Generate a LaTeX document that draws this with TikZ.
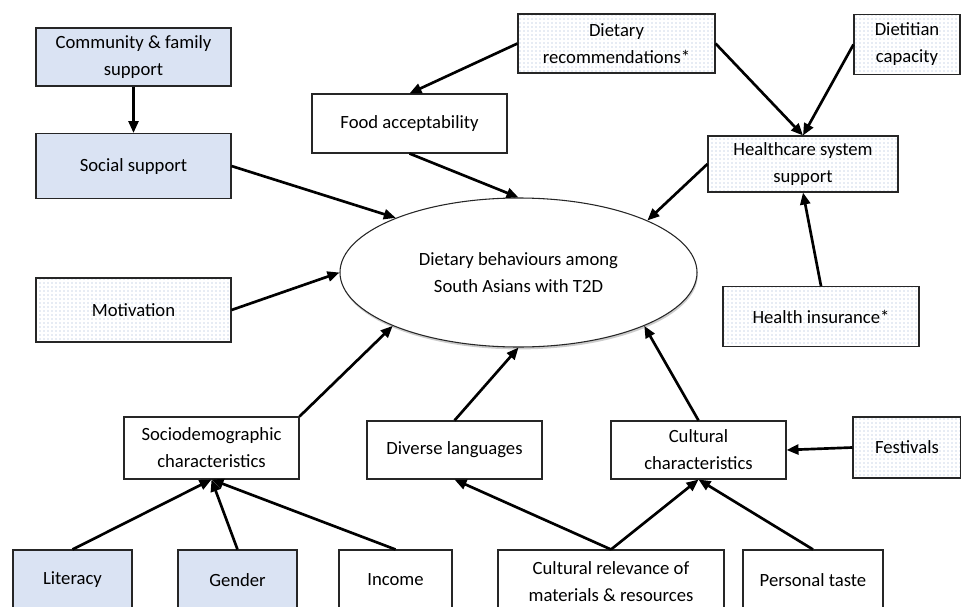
\documentclass[tikz,border=0pt]{standalone}
\usepackage{fontspec}
\setmainfont{Carlito}
\usetikzlibrary{shadows,arrows.meta,patterns,shapes.geometric}
\definecolor{azulclaro}{RGB}{218,227,243}
\definecolor{puntos}{RGB}{150,172,208}
\tikzstyle{factor}=[draw=black!85, line width=0.8pt, align=center,
  inner sep=0pt, font=\fontsize{14}{20.25}\selectfont]
\tikzstyle{apoyo} = [factor, fill=azulclaro]
\tikzstyle{sistema} = [factor, pattern=dots, pattern color=puntos]
\tikzstyle{conducta} = [factor, ellipse, fill=white,
  drop shadow={shadow xshift=0.6pt, shadow yshift=-1.8pt, fill=black!40, opacity=0.5}]
\tikzstyle{line} = [draw, line width=2pt, -{Triangle[length=9pt,width=7.5pt]}]
\newcommand{\factornode}[5]{node (#1) [#2, minimum width=#3,
  minimum height=#4] {#5}}

\begin{document}
\begin{tikzpicture}[x=0.75pt,y=-0.75pt]
  \clip (0,0) rectangle (961,607);

  % central behaviour
  \path (518.5,272.5) \factornode{DIETBEH}{conducta}{267.75pt}{111.75pt}{Dietary behaviours among\\South Asians with T2D};

  % social side
  \path (133.5,57) \factornode{COMMUNITY}{apoyo}{146.25pt}{43.5pt}{Community \& family\\support};
  \path (COMMUNITY.south)+(0.0,79.5) \factornode{SOCIAL}{apoyo}{146.25pt}{48.75pt}{Social support};
  \path (133.5,310) \factornode{MOTIVATION}{sistema}{146.25pt}{48pt}{Motivation};

  % healthcare side
  \path (409.5,123.5) \factornode{FOODACC}{factor}{146.25pt}{44.25pt}{Food acceptability};
  \path (616.5,43.5) \factornode{DIETREC}{sistema}{147.75pt}{44.25pt}{Dietary\\recommendations*};
  \path (907,44.5) \factornode{DIETITIAN}{sistema}{79.5pt}{45pt}{Dietitian\\capacity};
  \path (803,164) \factornode{HEALTHSYS}{sistema}{142.5pt}{42pt}{Healthcare system\\support};
  \path (HEALTHSYS.south)+(18.0,124.0) \factornode{INSURANCE}{sistema}{147pt}{45pt}{Health insurance*};

  % middle row
  \path (211.5,448) \factornode{SOCIODEM}{factor}{131.25pt}{46.5pt}{Sociodemographic\\characteristics};
  \path (454.5,450) \factornode{LANGUAGES}{factor}{131.25pt}{43.5pt}{Diverse languages};
  \path (698.5,450) \factornode{CULTURAL}{factor}{131.25pt}{43.5pt}{Cultural\\characteristics};
  \path (907,447.5) \factornode{FESTIVALS}{sistema}{81pt}{45.75pt}{Festivals};

  % bottom row
  \path (72.5,580) \factornode{LITERACY}{apoyo}{89.25pt}{45pt}{Literacy};
  \path (237.5,580) \factornode{GENDER}{apoyo}{89.25pt}{45pt}{Gender};
  \path (395.5,580) \factornode{INCOME}{factor}{84.75pt}{45pt}{Income};
  \path (611,582) \factornode{RELEVANCE}{factor}{169.5pt}{48pt}{Cultural relevance of\\materials \& resources};
  \path (813,580) \factornode{TASTE}{factor}{105pt}{45pt}{Personal taste};

  % Draw arrows between elements
  \path [line] (COMMUNITY.south) -- (SOCIAL.north);
  \path [line] (SOCIAL.east) -- (DIETBEH.156.7);
  \path [line] (MOTIVATION.east) -- (DIETBEH.west);
  \path [line] (FOODACC.south) -- (DIETBEH.north);
  \path [line] (DIETREC.west) -- (FOODACC.north);
  \path [line] (DIETREC.east) -- (HEALTHSYS.north);
  \path [line] (DIETITIAN.west) -- (HEALTHSYS.north);
  \path [line] (HEALTHSYS.west) -- (DIETBEH.22.9);
  \path [line] (INSURANCE.north) -- (HEALTHSYS.south);

  \path [line] (SOCIODEM.north east) -- (DIETBEH.203.3);
  \path [line] (LANGUAGES.north) -- (DIETBEH.south);
  \path [line] (CULTURAL.north) -- (DIETBEH.337);
  \path [line] (FESTIVALS.west) -- (CULTURAL.east);

  \path [line] (LITERACY.north) -- (SOCIODEM.south);
  \path [line] (GENDER.north) -- (SOCIODEM.south);
  \path [line] (INCOME.north) -- (SOCIODEM.south);
  \path [line] (RELEVANCE.north) -- (LANGUAGES.south);
  \path [line] (RELEVANCE.north) -- (CULTURAL.south);
  \path [line] (TASTE.north) -- (CULTURAL.south);

\end{tikzpicture}
\end{document}
